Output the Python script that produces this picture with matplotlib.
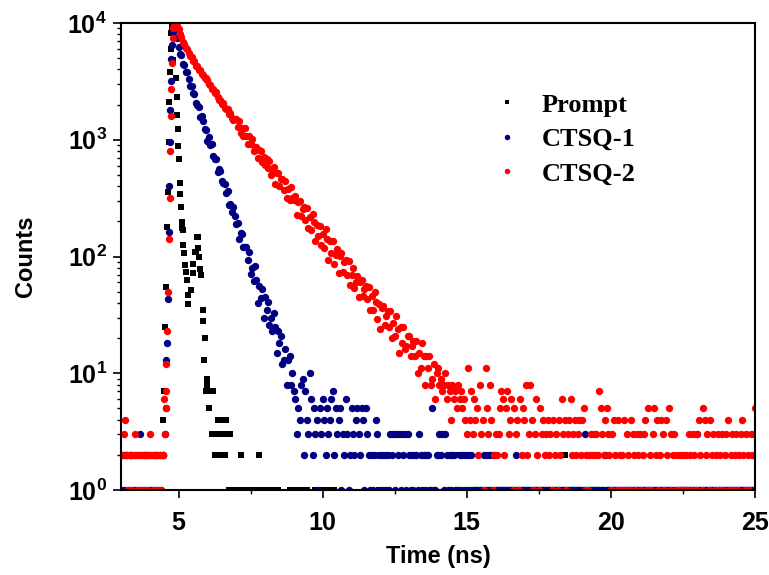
import numpy as np
import matplotlib.pyplot as plt

plt.rcParams['font.family'] = 'Liberation Sans'
plt.rcParams['font.weight'] = 'bold'
plt.rcParams['mathtext.fontset'] = 'custom'
plt.rcParams['mathtext.bf'] = 'Liberation Sans:bold'
plt.rcParams['mathtext.rm'] = 'Liberation Sans:bold'

# TCSPC channels: 3.00 ns .. 25.00 ns, 0.05 ns per channel, one line = 1 ns (0 = empty)
t_start = 3.0
t_step = 0.05

prompt_grid = """
0 0 0 0 0 0 0 0 0 0 0 0 0 0 0 0 0 0 0 0
0 0 0 0 0 0 0 0 0 0 0 0 0 0 0 0 0 0 0 0
0 0 0 0 0 0 0 0 0 0 0 0 0 0 0 0 0 0 0 0
8 5 7 3 7 2 3 4 2 3 4 3 2 4 3 1 3 1 1 1
1 0 1 2 1 1 0 1 1 1 0 1 1 1 0 1 2 1 1 0
1 1 0 1 1 1 0 0 0 1 0 0 0 0 0 0 0 1 1 0
1 1 0 1 1 0 1 1 0 1 0 0 0 0 0 1 0 1 0 1
0 1 0 0 1 0 0 0 1 0 0 0 0 0 0 0 0 0 0 0
0 0 0 0 0 0 0 0 0 0 0 0 0 0 0 0 0 0 0 1
0 0 0 0 0 0 0 0 0 0 0 0 0 0 0 0 0 0 0 0
0 0 0 0 0 0 0 0 0 0 0 0 0 0 0 0 0 0 0 0
0 0 0 0 0 0 0 0 0 0 0 0 0 2 0 0 0 0 0 0
0 0 0 0 0 0 0 0 0 0 0 0 0 0 0 0 0 0 0 0
0 0 0 0 0 0 0 0 0 0 0 0 0 0 0 0 0 0 0 0
0 0 0 0 0 0 0 0 0 0 0 0 0 0 0 0 0 0 0 0
0 0 0 0 0 0 0 0 2 0 0 0 0 0 0 0 0 0 0 0
0 0 0 0 0 0 0 0 0 0 0 0 0 0 0 0 0 0 0 0
0 0 0 0 0 0 0 0 0 0 0 0 0 0 0 0 0 0 0 0
0 0 0 0 0 0 0 0 0 0 0 0 0 0 0 0 0 0 0 0
0 0 0 0 0 0 0 0 0 0 0 0 0 0 0 0 0 0 0 0
0 0 0 0 0 0 0 0 0 0 0 0 0 0 0 0 0 0 0 0
0 0 0 0 0 0 0 0 0 0 0 0 0 0 0 0 0 0 0 0
0
"""

blue_grid = """
1 2 1 2 2 1 2 1 2 1 2 1 2 3 1 2 1 2 2 1
2 1 2 1 2 2 1 2 1 2 0 0 0 0 0 0 0 9400 9000 7500
6250 5420 5330 4480 4380 3800 3820 3290 2900 2900 2500 2470 2060 2000 1890 1580 1590 1460 1240 1210
978 1052 907 913 720 689 690 532 564 544 441 430 416 350 362 278 283 241 263 222
188 195 140 158 155 120 120 120 94 109 71 80 62 83 63 40 56 44 53 30
45 35 41 26 30 23 33 25 15 23 18 21 12 13 16 8 13 14 8 10
7 6 3 5 4 8 9 2 7 4 3 10 6 2 5 3 4 1 5 3
6 4 2 5 3 4 6 7 2 5 3 4 5 1 3 2 6 3 1 2
5 3 2 4 5 3 2 5 4 1 5 3 2 1 2 1 2 4 3 2
1 2 1 2 1 2 1 3 2 3 1 3 2 3 1 3 2 3 1 3
2 1 2 1 2 2 1 3 2 1 2 1 2 2 1 1 5 1 1 2
2 3 2 3 1 3 2 1 2 1 2 2 1 1 1 2 1 2 1 2
1 2 1 2 1 1 1 1 1 1 1 1 2 1 2 1 2 1 1 2
1 1 1 1 1 1 1 1 1 1 1 1 1 1 2 1 1 1 1 1
1 1 1 1 1 1 1 1 1 1 1 1 1 1 1 1 1 1 1 1
1 1 1 1 1 1 1 1 1 1 1 1 1 1 1 1 1 1 1 1
1 1 3 1 1 1 1 1 1 1 1 1 1 1 1 1 2 1 1 1
1 1 1 1 1 1 1 1 1 1 1 1 1 1 1 1 1 1 1 1
1 1 1 1 1 1 1 1 1 1 1 1 1 1 1 1 1 1 1 1
1 1 1 1 1 1 1 1 1 1 1 1 1 1 1 1 1 1 1 1
3 1 1 1 1 1 1 1 1 1 1 1 1 1 1 1 1 1 1 1
1 1 1 1 1 1 1 1 1 1 1 1 1 1 1 1 1 1 1 1
1
"""

red_grid = """
2 2 3 4 2 1 2 2 1 2 3 2 1 2 2 1 2 2 1 2
3 2 1 2 2 1 2 2 1 2 0 0 0 0 0 0 9000 9600 9900 9500
8800 8000 7600 6900 6650 6100 5980 5550 5200 5150 4700 4700 4300 4280 3920 3930 3640 3620 3350 3350
3230 2990 2950 2740 2720 2490 2540 2330 2210 2200 2040 2050 1880 1850 1830 1660 1690 1550 1480 1500
1514 1286 1437 1145 1252 1077 1260 1082 922 1081 918 1014 808 862 874 704 814 803 650 717
602 687 570 663 495 546 586 416 515 523 400 457 463 369 444 318 382 305 392 317
304 328 226 293 300 223 257 268 207 259 176 216 170 230 197 137 186 151 181 125
155 119 172 142 94 136 107 135 87 104 115 72 102 107 74 89 94 70 92 57
70 80 54 61 68 45 60 63 46 53 56 43 55 35 46 35 50 41 29 39
24 36 38 26 31 34 25 34 20 27 21 31 24 15 25 18 25 16 17 21
21 14 17 19 14 19 10 15 11 18 14 8 14 11 14 8 9 12 6 10
11 8 9 7 8 10 6 8 7 4 8 6 7 5 8 6 7 5 6 4
3 11 4 7 3 6 4 5 2 8 3 4 1 11 5 3 8 4 1 2
3 2 3 5 7 6 2 5 7 3 4 6 1 5 3 4 1 6 2 5
4 8 2 3 8 4 1 3 6 2 1 5 3 4 2 3 4 2 3 1
4 2 3 1 4 2 6 3 4 1 3 4 6 2 3 4 2 3 4 2
4 5 1 2 1 2 3 2 3 2 3 2 7 5 3 2 4 5 3 2
1 3 4 2 1 4 2 1 2 4 1 3 2 1 4 3 2 1 3 2
3 1 2 3 4 1 5 2 1 3 5 2 4 1 2 4 3 1 4 2
5 1 3 2 3 1 2 1 2 1 2 1 2 1 3 2 1 3 2 1
3 4 2 1 5 4 2 3 1 4 2 3 1 2 3 1 2 3 1 2
3 4 1 2 3 1 2 3 1 2 3 4 2 1 3 2 1 3 2 3
5
"""

# finer channels around the excitation pulse (read individually)
prompt_peak_t = [4.47, 4.49, 4.52, 4.55, 4.60, 4.62, 4.65, 4.68, 4.70, 4.72, 4.74, 4.76,
                 4.80, 4.90, 4.93, 4.95, 4.97, 4.99, 5.01, 5.04, 5.06, 5.08, 5.11, 5.13,
                 5.15, 5.16, 5.19, 5.22, 5.25, 5.28, 5.31, 5.34, 5.42, 5.49, 5.51, 5.57,
                 5.60, 5.63, 5.66, 5.68, 5.72, 5.75, 5.79, 5.83, 5.85, 5.89, 5.91, 5.95, 5.97]
prompt_peak_c = [4, 7, 25, 55, 178, 360, 960, 2100, 3800, 6000, 8200, 9300,
                 4800, 3400, 2340, 1620, 1230, 890, 690, 427, 343, 265, 199, 175,
                 169, 125, 107, 85, 74, 63, 47, 39, 52, 72, 87, 109,
                 110, 146, 148, 118, 100, 78, 69, 35, 28, 13, 20, 7, 9]

blue_rise_t = [4.47, 4.53, 4.55, 4.58, 4.61, 4.63, 4.65, 4.67, 4.69, 4.71, 4.73, 4.75, 4.77, 4.80]
blue_rise_c = [2, 3, 5, 13, 18, 43, 163, 405, 960, 1800, 3200, 4900, 6500, 8300]

red_rise_t = [4.47, 4.49, 4.53, 4.55, 4.56, 4.58, 4.61, 4.64, 4.67, 4.69, 4.71, 4.73, 4.75, 4.77, 4.79]
red_rise_c = [2, 6, 3, 5, 7, 12, 23, 50, 141, 316, 800, 1590, 2700, 4500, 7400]

series_names = ['Prompt', 'CTSQ-1', 'CTSQ-2']
y_ticks = [1, 10, 100, 1000, 10000]
y_tick_labels = [r'$\mathbf{10^{0}}$', r'$\mathbf{10^{1}}$', r'$\mathbf{10^{2}}$',
                 r'$\mathbf{10^{3}}$', r'$\mathbf{10^{4}}$']
x_ticks = [5, 10, 15, 20, 25]


def channels(grid, extra_t, extra_c):
    c = np.array(grid.split(), dtype=float)
    t = t_start + t_step * np.arange(len(c))
    t = np.concatenate([t, extra_t])
    c = np.concatenate([c, extra_c])
    keep = c > 0
    return t[keep], c[keep]


fig = plt.figure(figsize=(7.69, 5.75), dpi=100)
ax = fig.add_axes([0.1573, 0.1478, 0.8245, 0.8122])

t, c = channels(prompt_grid, prompt_peak_t, prompt_peak_c)
ax.plot(t, c, 's', color='black', ms=4.4, mew=0, label=series_names[0])
t, c = channels(blue_grid, blue_rise_t, blue_rise_c)
ax.plot(t, c, 'o', color='#000080', ms=5.3, mew=0, label=series_names[1])
t, c = channels(red_grid, red_rise_t, red_rise_c)
ax.plot(t, c, 'o', color='#ff0000', ms=5.3, mew=0, label=series_names[2])

ax.set_yscale('log')
ax.set_xlim(3, 25)
ax.set_ylim(1, 10000)
ax.set_xticks(x_ticks)
ax.set_xticks([7.5, 12.5, 17.5, 22.5], minor=True)
ax.set_yticks(y_ticks)
ax.set_yticklabels(y_tick_labels)
ax.yaxis.set_minor_formatter(plt.NullFormatter())

ax.tick_params(which='major', direction='out', length=6, width=1.2, labelsize=18)
ax.tick_params(which='minor', direction='out', length=3, width=1.0)
ax.tick_params(axis='x', pad=9)
ax.tick_params(axis='y', pad=4)
ax.tick_params(top=False, right=False)
for s in ax.spines.values():
    s.set_linewidth(1.5)

ax.set_xlabel('Time (ns)', fontsize=17, fontweight='bold', labelpad=7)
ax.set_ylabel('Counts', fontsize=17, fontweight='bold', labelpad=22)

ax.legend(loc='upper left', bbox_to_anchor=(0.588, 0.85), frameon=False,
          handlelength=1.0, handletextpad=0.8, labelspacing=0.42,
          borderpad=0, borderaxespad=0, markerscale=0.75,
          prop={'family': 'Liberation Serif', 'weight': 'bold', 'size': 19})

fig.savefig('out.png', dpi=100)
